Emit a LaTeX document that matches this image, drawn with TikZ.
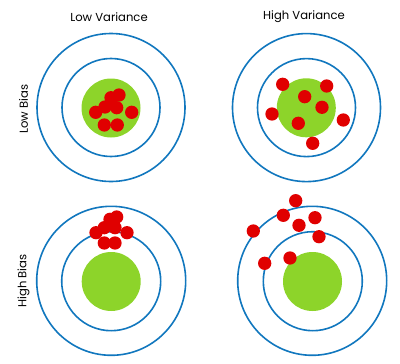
\documentclass[tikz,border=0pt]{standalone}
\usepackage{fontspec}
\setmainfont{Poppins}
\begin{document}
\begin{tikzpicture}[x=1pt,y=-1pt,
  ring/.style={circle, draw={rgb,255:red,17;green,119;blue,190}, line width=1.6pt, inner sep=0pt, minimum size=#1},
  bull/.style={circle, fill={rgb,255:red,141;green,212;blue,42}, inner sep=0pt, minimum size=59pt},
  hit/.style={circle, fill={rgb,255:red,224;green,0;blue,0}, inner sep=0pt, minimum size=13.3pt},
  lbl/.style={font=\fontsize{11.6}{13}\selectfont, text=black}]
\useasboundingbox (0,0) rectangle (400,364);
% labels
\node[lbl] (lv) at (109,17.5) {Low Variance};
\node[lbl] (hv) at (304,16.5) {High Variance};
\node[lbl, rotate=90] (lb) at (23.5,109) {Low Bias};
\node[lbl, rotate=90] (hb) at (23.5,281) {High Bias};
% top-left
\node[ring=148pt] (o1) at (111,107.5) {};
\node[ring=98pt] (i1) at (111,107.5) {};
\node[bull] (g1) at (111,108) {};
\foreach \p [count=\k] in {(119,95),(111,97.7),(105,107),(116.7,107.7),(95.7,112.3),(131.7,112.3),(104.3,125),(117.3,125)}
  \node[hit] (a\k) at \p {};
% top-right
\node[ring=148pt] (o2) at (306.5,107.6) {};
\node[ring=98pt] (i2) at (306.5,107.6) {};
\node[bull] (g2) at (306.3,107.8) {};
\foreach \p [count=\k] in {(282.7,84.3),(326.7,86),(304.7,96.7),(322,107.3),(272,114),(343.3,120),(298.3,123.3),(312.7,143.3)}
  \node[hit] (b\k) at \p {};
% bottom-left
\node[ring=149pt] (o3) at (111.2,280.8) {};
\node[ring=99pt] (i3) at (111.2,281.2) {};
\node[bull] (g3) at (111.2,281.5) {};
\foreach \p [count=\k] in {(116.7,217),(110,219.3),(104.3,227.7),(115,227.7),(96,232.7),(127,232.7),(104.3,243),(115,243)}
  \node[hit] (c\k) at \p {};
% bottom-right
\node[ring=149pt] (o4) at (312.2,280.8) {};
\node[ring=99pt] (i4) at (312.8,281.2) {};
\node[bull] (g4) at (312.5,281.5) {};
\foreach \p [count=\k] in {(295.7,200.7),(283.3,215.3),(315,217.7),(299,225.3),(253.3,231),(319,236.7),(290,258),(264.7,263.3)}
  \node[hit] (d\k) at \p {};
\end{tikzpicture}
\end{document}
